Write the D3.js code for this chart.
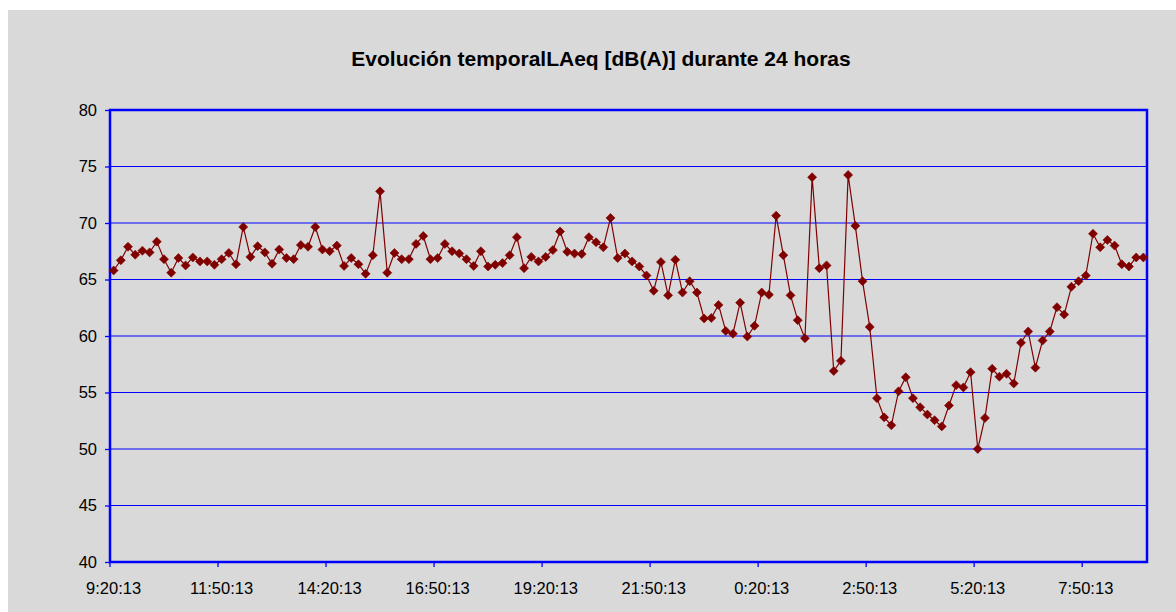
<!DOCTYPE html>
<html>
<head>
<meta charset="utf-8">
<script src="https://cdn.jsdelivr.net/npm/d3@7"></script>
<style>
  html, body { margin: 0; padding: 0; background: #ffffff; }
  svg { display: block; }
  text { font-family: "Liberation Sans", Arial, sans-serif; fill: #000; }
</style>
</head>
<body>
<svg id="chart" width="1176" height="612"></svg>
<script>
// ---------------- data ----------------
const chartTitle = "Evolución temporalLAeq [dB(A)] durante 24 horas";

// category axis: one reading every 10 minutes, starting at 9:20:13
const startTime = { h: 9, m: 20, s: 13 };
const stepMinutes = 10;
const pointCount = 144;

const tickLabels = ["9:20:13", "11:50:13", "14:20:13", "16:50:13", "19:20:13",
                    "21:50:13", "0:20:13", "2:50:13", "5:20:13", "7:50:13"];

const yTicks = [40, 45, 50, 55, 60, 65, 70, 75, 80];

const laeqPart1 = [65.8, 66.7, 67.9, 67.2, 67.55, 67.4, 68.35, 66.8, 65.6, 66.9,
                   66.25, 66.95, 66.6, 66.6, 66.3, 66.8, 67.35, 66.35, 69.65, 67.0,
                   67.95, 67.4, 66.4, 67.65, 66.9, 66.8, 68.05, 67.9, 69.65, 67.65,
                   67.5, 68.0, 66.2, 66.9, 66.35, 65.5, 67.15];
const laeqPart2 = [72.8, 65.6, 67.35, 66.8, 66.8, 68.15, 68.85, 66.8, 66.9, 68.15,
                   67.5, 67.3, 66.8, 66.2, 67.5, 66.15, 66.3, 66.45, 67.15, 68.75,
                   66.0, 67.0, 66.6, 67.0, 67.6, 69.25, 67.45, 67.3, 67.25, 68.75,
                   68.3, 67.85, 70.45, 66.9, 67.3];
const laeqPart3 = [66.6, 66.15, 65.35, 64.0, 66.55, 63.6, 66.75, 63.85, 64.85, 63.85,
                   61.55, 61.6, 62.75, 60.45, 60.2, 62.95, 59.95, 60.9, 63.85, 63.65,
                   70.65, 67.15, 63.6, 61.4, 59.8, 74.05, 66.0, 66.25, 56.9, 57.8,
                   74.25, 69.75, 64.85, 60.8, 54.5, 52.8];
const laeqPart4 = [52.1, 55.1, 56.35, 54.5, 53.7, 53.05, 52.55, 52.0, 53.85, 55.65,
                   55.45, 56.8, 50.0, 52.75, 57.1, 56.4, 56.65, 55.8, 59.4, 60.4,
                   57.2, 59.6, 60.4, 62.55, 61.9, 64.35, 64.85, 65.35, 69.05, 67.85,
                   68.5, 68.0, 66.35, 66.15, 66.95, 66.95];
const laeq = laeqPart1.concat(laeqPart2, laeqPart3, laeqPart4);

function timeLabel(i) {
  const total = (startTime.h * 60 + startTime.m + i * stepMinutes) % (24 * 60);
  const h = Math.floor(total / 60), m = total % 60;
  return h + ":" + String(m).padStart(2, "0") + ":" + String(startTime.s).padStart(2, "0");
}
const categories = d3.range(pointCount).map(timeLabel);

// ---------------- layout ----------------
const W = 1176, H = 612;
const plot = { left: 110, top: 110, right: 1147, bottom: 562 };
const bg = "#d9d9d9";
const blue = "#0000ff";
const red = "#800000";

const svg = d3.select("#chart");

svg.append("rect").attr("x", 8).attr("y", 10)
  .attr("width", W - 8).attr("height", H - 10).attr("fill", bg);

const x = d3.scaleBand().domain(categories).range([plot.left, plot.right]).padding(0);
const y = d3.scaleLinear().domain([40, 80]).range([plot.bottom, plot.top]);

// gridlines
svg.append("g").selectAll("line")
  .data(yTicks.filter(v => v > 40 && v < 80))
  .join("line")
  .attr("x1", plot.left).attr("x2", plot.right)
  .attr("y1", d => y(d)).attr("y2", d => y(d))
  .attr("stroke", blue).attr("stroke-width", 1);

// y axis (ticks outward, labels)
const yAxis = d3.axisLeft(y).tickValues(yTicks).tickSize(5).tickPadding(8).tickFormat(d3.format("d"));
const gy = svg.append("g").attr("transform", `translate(${plot.left},0)`).call(yAxis);
gy.select(".domain").remove();
gy.selectAll(".tick line").attr("stroke", blue).attr("stroke-width", 1.3);
gy.selectAll(".tick text").attr("font-size", "16.5px").attr("fill", "#000")
  .attr("font-family", "'Liberation Sans', Arial, sans-serif");

// x axis labels at category centres
const xAxis = d3.axisBottom(x).tickValues(tickLabels).tickSize(0).tickPadding(20);
const gx = svg.append("g").attr("transform", `translate(0,${plot.bottom})`).call(xAxis);
gx.select(".domain").remove();
gx.selectAll(".tick text").attr("font-size", "16.5px").attr("fill", "#000")
  .attr("font-family", "'Liberation Sans', Arial, sans-serif");

// x tick marks at category boundaries
svg.append("g").selectAll("line")
  .data(tickLabels)
  .join("line")
  .attr("x1", d => x(d)).attr("x2", d => x(d))
  .attr("y1", plot.bottom).attr("y2", plot.bottom + 5)
  .attr("stroke", blue).attr("stroke-width", 1.3);

// plot border
svg.append("rect")
  .attr("x", plot.left).attr("y", plot.top)
  .attr("width", plot.right - plot.left).attr("height", plot.bottom - plot.top)
  .attr("fill", "none").attr("stroke", blue).attr("stroke-width", 2.5);

// series line
const cx = i => x(categories[i]) + x.bandwidth() / 2;
const line = d3.line().x((d, i) => cx(i)).y(d => y(d));
svg.append("path").datum(laeq)
  .attr("d", line).attr("fill", "none")
  .attr("stroke", red).attr("stroke-width", 1.2);

// diamond markers
const r = 4.5;
svg.append("g").selectAll("path")
  .data(laeq)
  .join("path")
  .attr("transform", (d, i) => `translate(${cx(i)},${y(d)})`)
  .attr("d", `M0,${-r}L${r},0L0,${r}L${-r},0Z`)
  .attr("fill", red).attr("stroke", red).attr("stroke-width", 0.6);

// title
svg.append("text")
  .attr("x", 601).attr("y", 66)
  .attr("text-anchor", "middle")
  .attr("font-size", "21px").attr("font-weight", "bold")
  .text(chartTitle);
</script>
</body>
</html>
